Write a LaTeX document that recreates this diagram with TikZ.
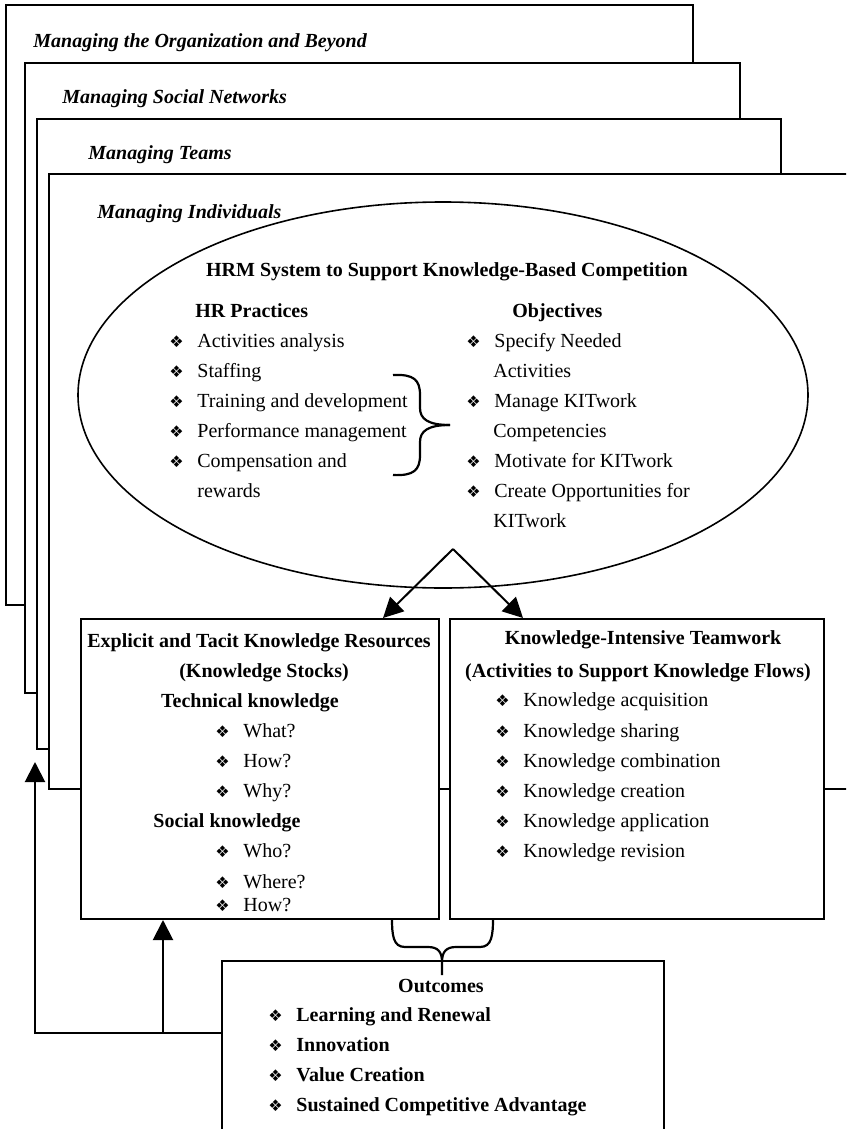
\documentclass[tikz,border=0pt]{standalone}
\usepackage{fontspec}
\setmainfont{Liberation Serif}
\newfontfamily\dingfont{DejaVu Sans}
\usepackage{tikz}
\usetikzlibrary{arrows.meta}
\usetikzlibrary{shapes.geometric}

\newcommand{\dia}{\makebox[14pt][l]{\dingfont\footnotesize ❖}}

\tikzset{
  level/.style={draw, line width=1pt, fill=white},
  levellabel/.style={anchor=base west, inner sep=0pt, font=\bfseries\itshape},
  head/.style={anchor=base, inner sep=0pt, font=\bfseries},
  item/.style={anchor=base west, inner sep=0pt},
  box/.style={draw, line width=1pt, fill=white, anchor=north west, inner sep=0pt},
  arr/.style={line width=1pt, -{Triangle[length=10pt,width=10pt]}},
  brace/.style={line width=1.1pt},
}

\begin{document}
\begin{tikzpicture}[x=0.5pt,y=-0.5pt]
\useasboundingbox (0,0) rectangle (846,1129);
\clip (0,0) rectangle (846,1129);

% nested levels
\draw[level] (6,5) rectangle (693,605);
\node[levellabel] (org) at (33,48) {Managing the Organization and Beyond};
\draw[level] (25,63) rectangle (740,693);
\node[levellabel] (net) at (62,104) {Managing Social Networks};
\draw[level] (37,119) rectangle (781,749);
\node[levellabel] (team) at (88,159) {Managing Teams};
\draw[level] (49,174) rectangle (880,789);
\node[levellabel] (indiv) at (97,218) {Managing Individuals};

% HRM system
\node[draw, ellipse, line width=0.8pt, minimum width=365pt, minimum height=193pt, inner sep=0pt] (hrm) at (443,395) {};
\node[head] (hrmtitle) at (447,276) {HRM System to Support Knowledge-Based Competition};
\node[head, anchor=base west] (practices) at (195,317) {HR Practices};
\node[head, anchor=base west] (objectives) at (512,317) {Objectives};

\node[item] (hr1) at (169,347) {\dia Activities analysis};
\node[item] (hr2) at (169,377) {\dia Staffing};
\node[item] (hr3) at (169,407) {\dia Training and development};
\node[item] (hr4) at (169,437) {\dia Performance management};
\node[item] (hr5) at (169,467) {\dia Compensation and};
\node[item] (hr5b) at (197,497) {rewards};

\node[item] (ob1) at (466,347) {\dia Specify Needed};
\node[item] (ob1b) at (493,377) {Activities};
\node[item] (ob2) at (466,407) {\dia Manage KITwork};
\node[item] (ob2b) at (493,437) {Competencies};
\node[item] (ob3) at (466,467) {\dia Motivate for KITwork};
\node[item] (ob4) at (466,497) {\dia Create Opportunities for};
\node[item] (ob4b) at (493,527) {KITwork};

\draw[brace] (393,375) .. controls (414,374) and (420,380) .. (420,395) -- (420,408) .. controls (420,419) and (428,425) .. (450,425);
\draw[brace] (393,475) .. controls (414,476) and (420,470) .. (420,455) -- (420,442) .. controls (420,431) and (428,425) .. (450,425);

% knowledge stocks and flows
\node[box, minimum width=179pt, minimum height=150pt] (stocks) at (80,618) {};
\node[box, minimum width=187pt, minimum height=150pt] (flows) at (449,618) {};

\coordinate (apex) at (453,549);
\draw[arr] (apex) -- (383,0 |- stocks.north);
\draw[arr] (apex) -- (523,0 |- flows.north);

\node[head] (stockstitle) at (259,647) {Explicit and Tacit Knowledge Resources};
\node[head] (stockssub) at (264,677) {(Knowledge Stocks)};
\node[head] (tech) at (250,707) {Technical knowledge};
\node[item] (st1) at (215,737) {\dia What?};
\node[item] (st2) at (215,767) {\dia How?};
\node[item] (st3) at (215,797) {\dia Why?};
\node[head] (social) at (227,827) {Social knowledge};
\node[item] (st4) at (215,857) {\dia Who?};
\node[item] (st5) at (215,888) {\dia Where?};
\node[item] (st6) at (215,911) {\dia How?};

\node[head] (flowstitle) at (643,644) {Knowledge-Intensive Teamwork};
\node[head] (flowssub) at (638,677) {(Activities to Support Knowledge Flows)};
\node[item] (fl1) at (495,706) {\dia Knowledge acquisition};
\node[item] (fl2) at (495,737) {\dia Knowledge sharing};
\node[item] (fl3) at (495,767) {\dia Knowledge combination};
\node[item] (fl4) at (495,797) {\dia Knowledge creation};
\node[item] (fl5) at (495,827) {\dia Knowledge application};
\node[item] (fl6) at (495,857) {\dia Knowledge revision};

% outcomes
\node[box, minimum width=221pt, minimum height=100pt] (outcomes) at (221,960) {};
\node[head] (outtitle) at (441,992) {Outcomes};
\node[item, font=\bfseries] (out1) at (268,1021) {\dia Learning and Renewal};
\node[item, font=\bfseries] (out2) at (268,1051) {\dia Innovation};
\node[item, font=\bfseries] (out3) at (268,1081) {\dia Value Creation};
\node[item, font=\bfseries] (out4) at (268,1111) {\dia Sustained Competitive Advantage};

\draw[brace] (392,918) .. controls (392,935) and (393,947) .. (405,947) -- (428,947) .. controls (438,947) and (442,952) .. (442,962) -- (442,975);
\draw[brace] (493,918) .. controls (493,935) and (492,947) .. (480,947) -- (456,947) .. controls (446,947) and (442,952) .. (442,962);

% feedback
\coordinate (turn) at (35,1033);
\coordinate (back) at (35,762);
\draw[arr] (turn -| outcomes.west) -- (turn) -- (back);
\draw[arr] (turn -| 163,0) -- (stocks.south -| 163,0);

\end{tikzpicture}
\end{document}
